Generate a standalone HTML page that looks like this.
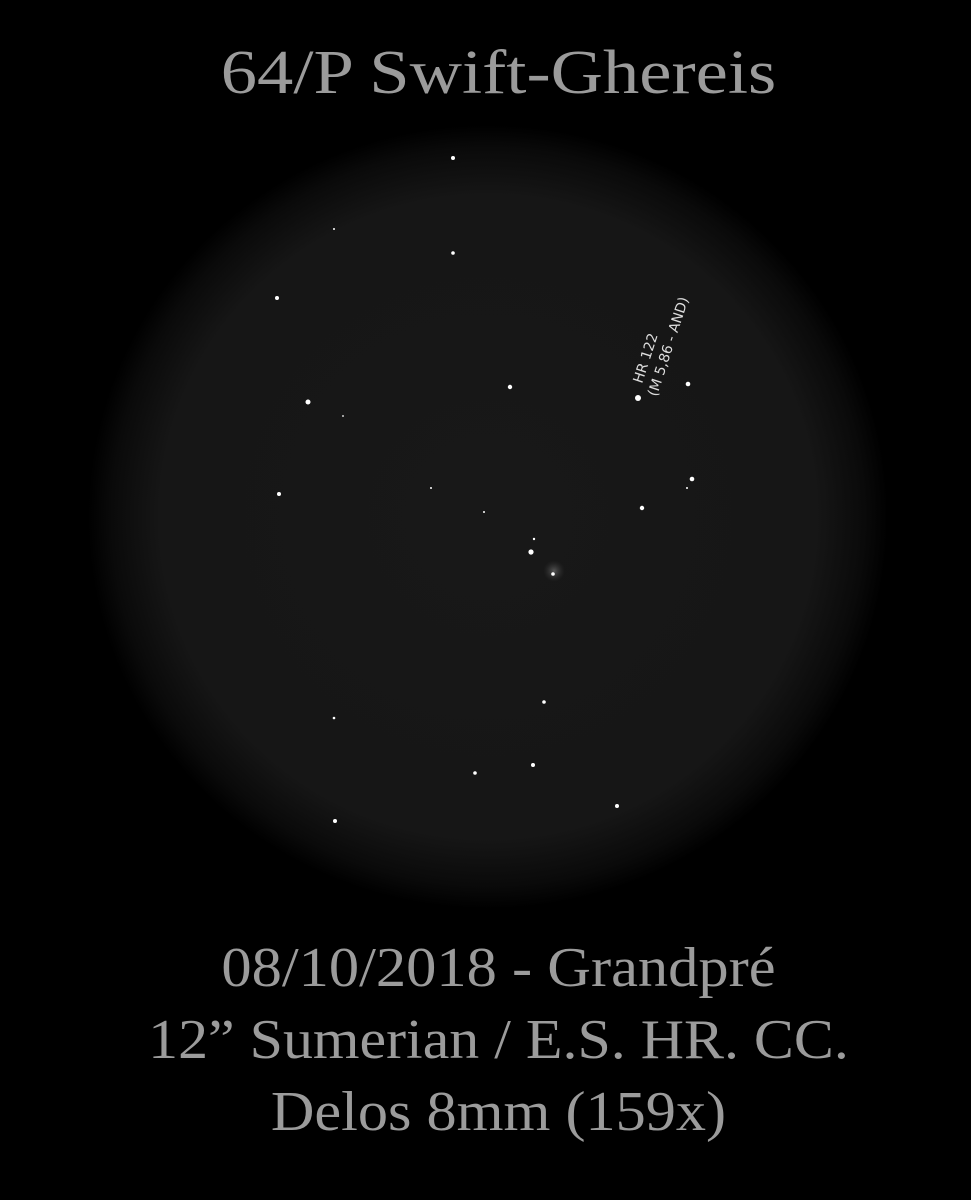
<!DOCTYPE html>
<html><head><meta charset="utf-8"><style>
html,body{margin:0;padding:0;background:#000;}
#wrap{position:relative;width:971px;height:1200px;overflow:hidden;background:#000;font-family:"Liberation Serif",serif;}
.t{position:absolute;left:13px;width:971px;text-align:center;color:#9b9b9b;white-space:nowrap;}
</style></head><body>
<div id="wrap">
<svg width="971" height="1200" style="position:absolute;left:0;top:0">
<defs>
<radialGradient id="fov" cx="0.5" cy="0.5" r="0.5">
<stop offset="0" stop-color="#181818"/>
<stop offset="0.82" stop-color="#161616"/>
<stop offset="0.94" stop-color="#0a0a0a"/>
<stop offset="1" stop-color="#000"/>
</radialGradient>
<radialGradient id="coma" cx="0.5" cy="0.5" r="0.5">
<stop offset="0" stop-color="#666" stop-opacity="0.8"/>
<stop offset="1" stop-color="#333" stop-opacity="0"/>
</radialGradient>
</defs>
<ellipse cx="488" cy="517" rx="400" ry="392" fill="url(#fov)"/>
<circle cx="554" cy="571" r="11" fill="url(#coma)"/>
<g id="stars"></g>
<g transform="translate(642,384) rotate(-72)" fill="#ddd" font-family="'DejaVu Sans',sans-serif" font-size="14">
<text x="0" y="0">HR 122</text>
<text x="-8" y="18">(M 5,86 - AND)</text>
</g>
</svg>
<div class="t" style="top:38px;font-size:62px;transform:scaleX(1.17);">64/P Swift-Ghereis</div>
<div class="t" style="top:936px;font-size:56px;transform:scaleX(1.08);">08/10/2018 - Grandpré</div>
<div class="t" style="top:1008px;font-size:56px;transform:scaleX(1.07);">12” Sumerian / E.S. HR. CC.</div>
<div class="t" style="top:1080px;font-size:56px;transform:scaleX(1.076);">Delos 8mm (159x)</div>
</div>
<script>
const starX=[453,334,453,277,510,308,343,638,688,279,431,484,642,692,687,534,531,553,544,334,475,533,617,335];
const starY=[158,229,253,298,387,402,416,398,384,494,488,512,508,479,488,539,552,574,702,718,773,765,806,821];
const starMag=[2,1,1.8,2,2.2,2.5,0.9,3,2.3,2,1,1,2.2,2.3,1,1.2,2.6,1.8,1.8,1.3,1.8,2,2,2];
const g=document.getElementById('stars');
for(let i=0;i<starX.length;i++){
 const c=document.createElementNS('http://www.w3.org/2000/svg','circle');
 c.setAttribute('cx',starX[i]);c.setAttribute('cy',starY[i]);c.setAttribute('r',starMag[i]);
 c.setAttribute('fill','#fff');
 
 
 g.appendChild(c);
}
</script>
</body></html>
